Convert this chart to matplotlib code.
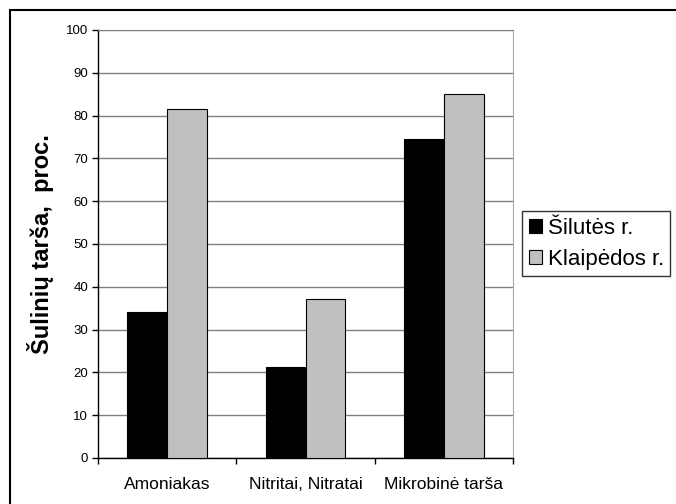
import matplotlib.pyplot as plt
import matplotlib.patches as patches
import numpy as np

# Well contamination share by district (percent)
categories = ['Amoniakas', 'Nitritai, Nitratai', 'Mikrobinė tarša']
silute = [34.1, 21.3, 74.5]
klaipeda = [81.5, 37.1, 85.0]
series_names = ['Šilutės r.', 'Klaipėdos r.']

plt.rcParams['font.family'] = ['Liberation Sans', 'DejaVu Sans']

fig = plt.figure(figsize=(6.76, 5.04), dpi=100)
ax = fig.add_axes([98 / 676, 46 / 504, 415 / 676, 428 / 504])

x = np.arange(len(categories))
w = 0.289
ax.bar(x - w / 2, silute, w, color='black', edgecolor='black', linewidth=0.8, label=series_names[0], zorder=3)
ax.bar(x + w / 2, klaipeda, w, color='#c0c0c0', edgecolor='black', linewidth=0.8, label=series_names[1], zorder=3)

ax.set_xlim(-0.5, 2.5)
ax.set_ylim(0, 100)
ax.set_yticks(range(0, 101, 10))
ax.yaxis.grid(True, color='#808080', linewidth=1.0, zorder=0)
ax.set_axisbelow(True)

ax.set_xticks(x)
ax.set_xticklabels(categories, fontsize=12.5)
ax.tick_params(axis='x', which='major', length=0, pad=14)
ax.set_xticks([-0.5, 0.5, 1.5, 2.5], minor=True)
ax.tick_params(axis='x', which='minor', length=4, width=1, direction='out')
ax.tick_params(axis='y', length=4, width=1, direction='out', pad=3, labelsize=9.5)

ax.spines['top'].set_color('#808080')
ax.spines['right'].set_color('#a8a8a8')
ax.spines['left'].set_linewidth(1)
ax.spines['bottom'].set_linewidth(1)

ax.set_ylabel('Šulinių tarša,  proc.', fontsize=17, fontweight='bold', labelpad=9)

leg = ax.legend(loc='upper left', bbox_to_anchor=(522 / 676, 1 - 211 / 504),
                bbox_transform=fig.transFigure, fontsize=16, frameon=True, fancybox=False,
                edgecolor='black', borderaxespad=0, borderpad=0.3, handlelength=0.6,
                handleheight=0.6, handletextpad=0.25, labelspacing=0.45)
leg.get_frame().set_linewidth(1)

# frame around the whole chart area
fig.patches.append(patches.Rectangle((10 / 676, -0.1), 2, 1 - 10 / 504 + 0.1,
                                     transform=fig.transFigure, fill=False,
                                     edgecolor='black', linewidth=1.5))

fig.savefig('out.png', dpi=100)
